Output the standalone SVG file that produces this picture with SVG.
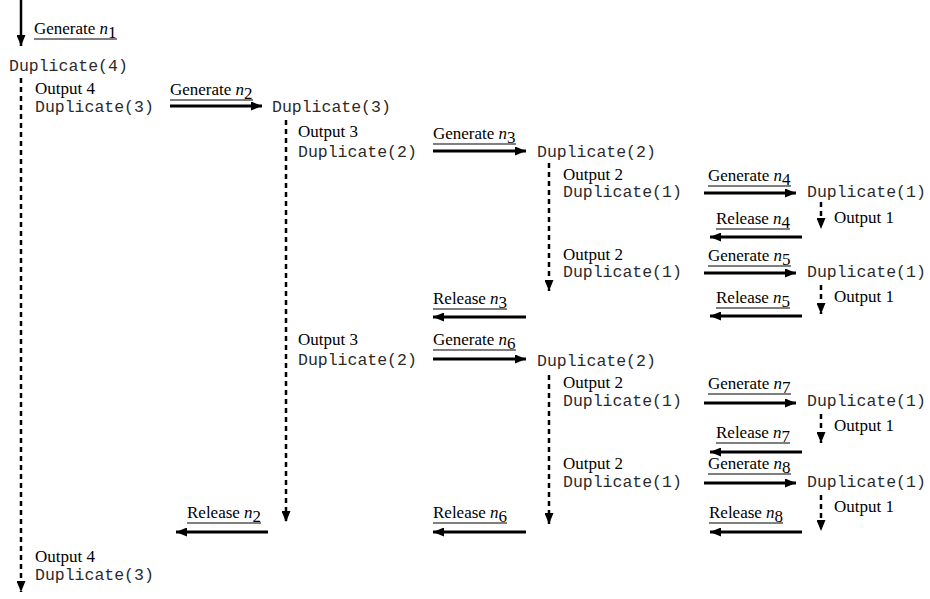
<svg xmlns="http://www.w3.org/2000/svg" width="930" height="599" viewBox="0 0 930 599">
  <style>
    .mono { font-family: "Liberation Mono", "Courier New", monospace; font-size: 16.5px; fill: #2a2a2a; }
    .tm { font-family: "Liberation Serif", "Times New Roman", serif; font-size: 17px; fill: #000; }
    .it { font-style: italic; }
    .solid { stroke: #000; stroke-width: 3; fill: none; }
    .vsolid { stroke: #000; stroke-width: 2.5; fill: none; }
    .dash { stroke: #000; stroke-width: 2.5; stroke-dasharray: 5 4; fill: none; }
    .ul { stroke: #000; stroke-width: 1.2; }
  </style>
  <defs>
    <marker id="head" viewBox="0 0 11 9" refX="11" refY="4.5" markerWidth="11" markerHeight="9" markerUnits="userSpaceOnUse" orient="auto">
      <path d="M0,0 L11,4.5 L0,9 z" fill="#000"/>
    </marker>
    <marker id="vhead" viewBox="0 0 9 11" refX="4.5" refY="11" markerWidth="9" markerHeight="11" markerUnits="userSpaceOnUse" orient="0">
      <path d="M0,0 L9,0 L4.5,11 z" fill="#000"/>
    </marker>
  </defs>

  <!-- connectors: generate / release arrows and the dashed lifelines -->
  <g id="connectors">
    <!-- entry arrow -->
    <line class="vsolid" x1="21" y1="0" x2="21" y2="46" marker-end="url(#vhead)"/>
    <!-- lifelines -->
    <line class="dash" x1="21" y1="78" x2="21" y2="592" marker-end="url(#vhead)"/>
    <line class="dash" x1="286" y1="120" x2="286" y2="522" marker-end="url(#vhead)"/>
    <line class="dash" x1="549" y1="163" x2="549" y2="291" marker-end="url(#vhead)"/>
    <line class="dash" x1="549" y1="375" x2="549" y2="524" marker-end="url(#vhead)"/>
    <line class="dash" x1="821" y1="202" x2="821" y2="229" marker-end="url(#vhead)"/>
    <line class="dash" x1="821" y1="285" x2="821" y2="314" marker-end="url(#vhead)"/>
    <line class="dash" x1="821" y1="414" x2="821" y2="443" marker-end="url(#vhead)"/>
    <line class="dash" x1="821" y1="495" x2="821" y2="531" marker-end="url(#vhead)"/>
    <!-- generate arrows -->
    <line class="solid" x1="170" y1="106" x2="262" y2="106" marker-end="url(#head)"/>
    <line class="solid" x1="433" y1="151" x2="526" y2="151" marker-end="url(#head)"/>
    <line class="solid" x1="433" y1="359" x2="526" y2="359" marker-end="url(#head)"/>
    <line class="solid" x1="704" y1="193" x2="796" y2="193" marker-end="url(#head)"/>
    <line class="solid" x1="704" y1="273" x2="796" y2="273" marker-end="url(#head)"/>
    <line class="solid" x1="704" y1="403" x2="796" y2="403" marker-end="url(#head)"/>
    <line class="solid" x1="704" y1="483" x2="796" y2="483" marker-end="url(#head)"/>
    <!-- release arrows -->
    <line class="solid" x1="802" y1="237" x2="710" y2="237" marker-end="url(#head)"/>
    <line class="solid" x1="802" y1="316" x2="710" y2="316" marker-end="url(#head)"/>
    <line class="solid" x1="802" y1="452" x2="710" y2="452" marker-end="url(#head)"/>
    <line class="solid" x1="802" y1="532" x2="710" y2="532" marker-end="url(#head)"/>
    <line class="solid" x1="526" y1="317" x2="433" y2="317" marker-end="url(#head)"/>
    <line class="solid" x1="526" y1="532" x2="433" y2="532" marker-end="url(#head)"/>
    <line class="solid" x1="268" y1="532" x2="176" y2="532" marker-end="url(#head)"/>
  </g>

  <!-- message labels -->
  <g id="labels">
    <g id="gen-n1"><text class="tm" x="34" y="34">Generate <tspan class="it">n</tspan><tspan dy="4">1</tspan></text><line class="ul" x1="34" y1="39" x2="117" y2="39"/></g>
    <g id="gen-n2"><text class="tm" x="170" y="95">Generate <tspan class="it">n</tspan><tspan dy="4">2</tspan></text><line class="ul" x1="170" y1="100" x2="253" y2="100"/></g>
    <g id="gen-n3"><text class="tm" x="433" y="139">Generate <tspan class="it">n</tspan><tspan dy="4">3</tspan></text><line class="ul" x1="433" y1="144" x2="516" y2="144"/></g>
    <g id="gen-n4"><text class="tm" x="708" y="181">Generate <tspan class="it">n</tspan><tspan dy="4">4</tspan></text><line class="ul" x1="708" y1="186" x2="791" y2="186"/></g>
    <g id="rel-n4"><text class="tm" x="716" y="224">Release <tspan class="it">n</tspan><tspan dy="4">4</tspan></text><line class="ul" x1="716" y1="229" x2="790" y2="229"/></g>
    <g id="gen-n5"><text class="tm" x="708" y="261">Generate <tspan class="it">n</tspan><tspan dy="4">5</tspan></text><line class="ul" x1="708" y1="266" x2="791" y2="266"/></g>
    <g id="rel-n5"><text class="tm" x="716" y="303">Release <tspan class="it">n</tspan><tspan dy="4">5</tspan></text><line class="ul" x1="716" y1="308" x2="790" y2="308"/></g>
    <g id="rel-n3"><text class="tm" x="433" y="304">Release <tspan class="it">n</tspan><tspan dy="4">3</tspan></text><line class="ul" x1="433" y1="309" x2="507" y2="309"/></g>
    <g id="gen-n6"><text class="tm" x="433" y="345">Generate <tspan class="it">n</tspan><tspan dy="4">6</tspan></text><line class="ul" x1="433" y1="350" x2="516" y2="350"/></g>
    <g id="gen-n7"><text class="tm" x="708" y="389">Generate <tspan class="it">n</tspan><tspan dy="4">7</tspan></text><line class="ul" x1="708" y1="394" x2="791" y2="394"/></g>
    <g id="rel-n7"><text class="tm" x="716" y="438">Release <tspan class="it">n</tspan><tspan dy="4">7</tspan></text><line class="ul" x1="716" y1="443" x2="790" y2="443"/></g>
    <g id="gen-n8"><text class="tm" x="708" y="469">Generate <tspan class="it">n</tspan><tspan dy="4">8</tspan></text><line class="ul" x1="708" y1="474" x2="791" y2="474"/></g>
    <g id="rel-n8"><text class="tm" x="709" y="518">Release <tspan class="it">n</tspan><tspan dy="4">8</tspan></text><line class="ul" x1="709" y1="523" x2="783" y2="523"/></g>
    <g id="rel-n6"><text class="tm" x="433" y="518">Release <tspan class="it">n</tspan><tspan dy="4">6</tspan></text><line class="ul" x1="433" y1="523" x2="507" y2="523"/></g>
    <g id="rel-n2"><text class="tm" x="187" y="518">Release <tspan class="it">n</tspan><tspan dy="4">2</tspan></text><line class="ul" x1="187" y1="523" x2="261" y2="523"/></g>
  </g>

  <!-- Duplicate(4) level -->
  <g id="dup4"><text class="mono" x="9" y="71">Duplicate(4)</text></g>
  <g id="out4a"><text class="tm" x="35" y="94">Output 4</text><text class="mono" x="35" y="112">Duplicate(3)</text></g>
  <g id="out4b"><text class="tm" x="35" y="562">Output 4</text><text class="mono" x="35" y="580">Duplicate(3)</text></g>

  <!-- Duplicate(3) level -->
  <g id="dup3"><text class="mono" x="272" y="112">Duplicate(3)</text></g>
  <g id="out3a"><text class="tm" x="298" y="137">Output 3</text><text class="mono" x="298" y="157">Duplicate(2)</text></g>
  <g id="out3b"><text class="tm" x="298" y="345">Output 3</text><text class="mono" x="298" y="365">Duplicate(2)</text></g>

  <!-- Duplicate(2) level -->
  <g id="dup2a"><text class="mono" x="537" y="157">Duplicate(2)</text></g>
  <g id="out2a"><text class="tm" x="563" y="180">Output 2</text><text class="mono" x="563" y="197">Duplicate(1)</text></g>
  <g id="out2b"><text class="tm" x="563" y="260">Output 2</text><text class="mono" x="563" y="277">Duplicate(1)</text></g>
  <g id="dup2b"><text class="mono" x="537" y="366">Duplicate(2)</text></g>
  <g id="out2c"><text class="tm" x="563" y="388">Output 2</text><text class="mono" x="563" y="406">Duplicate(1)</text></g>
  <g id="out2d"><text class="tm" x="563" y="469">Output 2</text><text class="mono" x="563" y="487">Duplicate(1)</text></g>

  <!-- Duplicate(1) level -->
  <g id="dup1a"><text class="mono" x="807" y="197">Duplicate(1)</text><text class="tm" x="834" y="223">Output 1</text></g>
  <g id="dup1b"><text class="mono" x="807" y="277">Duplicate(1)</text><text class="tm" x="834" y="302">Output 1</text></g>
  <g id="dup1c"><text class="mono" x="807" y="406">Duplicate(1)</text><text class="tm" x="834" y="431">Output 1</text></g>
  <g id="dup1d"><text class="mono" x="807" y="487">Duplicate(1)</text><text class="tm" x="834" y="512">Output 1</text></g>
</svg>
